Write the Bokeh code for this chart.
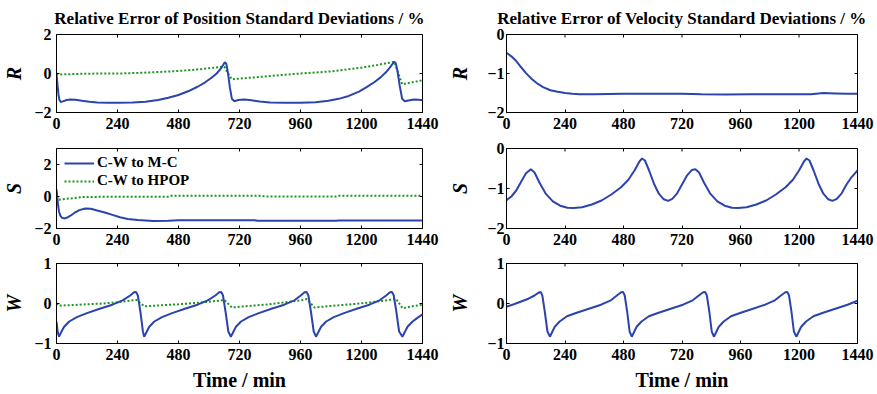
import math
from bokeh.plotting import figure
from bokeh.layouts import row, column
from bokeh.models import FixedTicker, Range1d, Legend, LegendItem, ColumnDataSource
from bokeh.embed import file_html
from bokeh.resources import INLINE

# ---------------- data ----------------
pos_r_mc_t = [0, 4, 8, 12, 17, 25, 40, 55, 75, 100, 130, 160, 200, 240, 300, 350, 400, 440,
              480, 520, 555, 585, 610, 630, 645, 655, 662, 668, 675, 682, 690, 700, 715, 737,
              760, 800, 840, 900, 960, 1020, 1070, 1110, 1150, 1190, 1220, 1250, 1275, 1295,
              1310, 1320, 1328, 1335, 1342, 1350, 1360, 1370, 1385, 1405, 1425, 1440]
pos_r_mc = [0.0, -0.6, -1.1, -1.38, -1.46, -1.43, -1.36, -1.33, -1.35, -1.4, -1.45, -1.49,
            -1.5, -1.5, -1.49, -1.45, -1.36, -1.24, -1.1, -0.9, -0.68, -0.45, -0.22, 0.0,
            0.22, 0.42, 0.58, 0.5, 0.0, -0.7, -1.3, -1.42, -1.36, -1.33, -1.36, -1.44, -1.49,
            -1.5, -1.5, -1.47, -1.4, -1.3, -1.15, -0.93, -0.7, -0.45, -0.2, 0.05, 0.28, 0.45,
            0.6, 0.52, 0.1, -0.6, -1.3, -1.42, -1.38, -1.33, -1.35, -1.37]

pos_r_hp_t = [0, 10, 20, 60, 120, 180, 240, 300, 360, 420, 480, 540, 600, 640, 660, 675, 690,
              720, 780, 840, 900, 960, 1020, 1080, 1140, 1200, 1260, 1300, 1329, 1345, 1360,
              1400, 1440]
pos_r_hp = [0.0, -0.05, -0.05, -0.03, -0.01, 0.0, 0.0, 0.02, 0.05, 0.09, 0.13, 0.19, 0.27,
            0.33, 0.35, 0.0, -0.3, -0.26, -0.2, -0.13, -0.06, 0.0, 0.05, 0.11, 0.2, 0.3, 0.43,
            0.53, 0.6, 0.0, -0.55, -0.45, -0.35]

pos_s_mc_t = [0, 3, 6, 10, 15, 22, 30, 40, 55, 70, 90, 113, 135, 160, 190, 220, 250, 280, 320,
              380, 440, 480, 600, 780, 790, 900, 1100, 1110, 1300, 1440]
pos_s_mc = [0.45, 0.0, -0.5, -0.95, -1.2, -1.33, -1.37, -1.33, -1.2, -1.03, -0.85, -0.75,
            -0.77, -0.88, -1.0, -1.15, -1.3, -1.4, -1.47, -1.53, -1.52, -1.48, -1.48, -1.48,
            -1.52, -1.52, -1.52, -1.5, -1.5, -1.5]

pos_s_hp_t = [0, 5, 10, 20, 40, 70, 100, 200, 300, 440, 450, 800, 830, 1100, 1110, 1440]
pos_s_hp = [0.0, -0.15, -0.2, -0.18, -0.14, -0.1, -0.03, -0.02, -0.02, -0.01, 0.04, 0.04,
            0.0, 0.0, 0.04, 0.04]

pos_w_mc_t = [0, 5, 10, 18, 30, 50, 80, 120, 170, 220, 260, 290, 305, 313, 320, 330, 340, 345,
              353, 365, 385, 415, 455, 505, 555, 595, 625, 640, 648, 655, 665, 676, 686, 694,
              706, 726, 756, 796, 846, 896, 936, 961, 976, 984, 991, 1001, 1012, 1021, 1029,
              1041, 1061, 1091, 1131, 1181, 1231, 1271, 1297, 1312, 1320, 1327, 1337, 1348,
              1361, 1369, 1381, 1401, 1420, 1440]
pos_w_mc = [-0.45, -0.72, -0.83, -0.72, -0.58, -0.45, -0.34, -0.24, -0.13, -0.03, 0.08, 0.2,
            0.28, 0.29, 0.2, -0.2, -0.7, -0.83, -0.73, -0.58, -0.45, -0.34, -0.24, -0.13,
            -0.03, 0.08, 0.2, 0.28, 0.29, 0.2, -0.2, -0.7, -0.83, -0.73, -0.58, -0.45, -0.34,
            -0.24, -0.13, -0.03, 0.08, 0.2, 0.28, 0.29, 0.2, -0.2, -0.7, -0.83, -0.73, -0.58,
            -0.45, -0.34, -0.24, -0.13, -0.03, 0.08, 0.2, 0.28, 0.29, 0.2, -0.2, -0.7, -0.83,
            -0.73, -0.58, -0.45, -0.36, -0.27]

pos_w_hp_t = [0, 8, 15, 60, 120, 180, 240, 300, 315, 345, 400, 480, 560, 640, 660, 690, 740,
              820, 900, 970, 985, 1015, 1080, 1160, 1240, 1320, 1335, 1362, 1400, 1440]
pos_w_hp = [0.0, -0.05, -0.05, -0.04, -0.02, 0.0, 0.03, 0.08, 0.09, -0.07, -0.05, -0.02, 0.02,
            0.07, 0.09, -0.1, -0.07, -0.03, 0.03, 0.09, 0.11, -0.1, -0.06, -0.02, 0.03, 0.1,
            0.12, -0.12, -0.07, -0.03]

vel_r_t = [0, 20, 40, 60, 80, 100, 125, 150, 180, 210, 240, 270, 300, 360, 480, 720, 800, 900,
           1000, 1250, 1300, 1350, 1400, 1440]
vel_r = [-0.47, -0.56, -0.68, -0.84, -0.99, -1.12, -1.25, -1.35, -1.43, -1.47, -1.5, -1.52,
         -1.53, -1.53, -1.52, -1.52, -1.53, -1.54, -1.53, -1.53, -1.5, -1.51, -1.52, -1.52]

vel_s_t = [0, 20, 40, 60, 80, 100, 115, 135, 160, 190, 220, 250, 275, 310, 350, 390, 430, 470,
           500, 525, 545, 556, 568, 585, 605, 625, 645, 663, 680, 700, 720, 740, 760, 775, 790,
           810, 835, 865, 895, 925, 950, 985, 1025, 1065, 1105, 1145, 1175, 1200, 1220, 1231,
           1243, 1260, 1280, 1300, 1320, 1337, 1355, 1375, 1395, 1415, 1440]
vel_s = [-1.29, -1.2, -1.05, -0.83, -0.62, -0.52, -0.6, -0.85, -1.12, -1.32, -1.43, -1.48,
         -1.49, -1.47, -1.4, -1.3, -1.15, -0.97, -0.78, -0.55, -0.33, -0.25, -0.3, -0.55,
         -0.88, -1.13, -1.27, -1.31, -1.26, -1.12, -0.9, -0.68, -0.54, -0.52, -0.6, -0.85,
         -1.12, -1.32, -1.43, -1.48, -1.49, -1.47, -1.4, -1.3, -1.15, -0.97, -0.78, -0.55,
         -0.33, -0.25, -0.3, -0.55, -0.88, -1.13, -1.27, -1.31, -1.26, -1.12, -0.9, -0.72,
         -0.55]

vel_w_t = [0, 30, 60, 90, 115, 132, 140, 147, 157, 168, 178, 186, 198, 218, 248, 288, 338,
           388, 428, 453, 470, 478, 485, 495, 505, 514, 522, 534, 554, 584, 624, 674, 724,
           764, 789, 807, 815, 822, 832, 842, 851, 859, 871, 891, 921, 961, 1011, 1061, 1101,
           1126, 1144, 1152, 1159, 1169, 1179, 1189, 1197, 1209, 1229, 1259, 1299, 1349, 1399,
           1440]
vel_w = [-0.08, -0.02, 0.05, 0.12, 0.2, 0.27, 0.29, 0.2, -0.2, -0.7, -0.83, -0.73, -0.58,
         -0.45, -0.32, -0.23, -0.13, -0.03, 0.08, 0.2, 0.28, 0.29, 0.2, -0.2, -0.7, -0.83,
         -0.73, -0.58, -0.45, -0.32, -0.23, -0.13, -0.03, 0.08, 0.2, 0.28, 0.29, 0.2, -0.2,
         -0.7, -0.83, -0.73, -0.58, -0.45, -0.32, -0.23, -0.13, -0.03, 0.08, 0.2, 0.28, 0.29,
         0.2, -0.2, -0.7, -0.83, -0.73, -0.58, -0.45, -0.32, -0.23, -0.13, -0.03, 0.07]

x_ticks = [0, 240, 480, 720, 960, 1200, 1440]
titles = ["Relative Error of Position Standard Deviations / %",
          "Relative Error of Velocity Standard Deviations / %"]
row_labels = ["R", "S", "W"]
legend_labels = ["C-W to M-C", "C-W to HPOP"]
x_label = "Time / min"

# ---------------- styling ----------------
BLUE = "#2b44ad"
GREEN = "#1c951c"
FONT = "Liberation Serif"
X_END = 1440


def make_panel(w, h, bl, br, bt, bb, yr, yt, ylab, lstand, astand, title=None, xlab=None):
    p = figure(width=w, height=h, x_range=Range1d(0, X_END), y_range=Range1d(*yr),
               output_backend="svg", toolbar_location=None,
               min_border_left=bl, min_border_right=br, min_border_top=bt,
               min_border_bottom=bb, title=title)
    p.xgrid.visible = False
    p.ygrid.visible = False
    p.outline_line_color = "black"
    p.outline_line_alpha = 1.0
    p.outline_line_width = 1
    p.background_fill_color = "white"
    p.border_fill_color = "white"
    if title:
        p.title.text_font = FONT
        p.title.text_font_size = "17px"
        p.title.text_font_style = "bold"
        p.title.text_color = "black"
        p.title.align = "center"
        p.title.standoff = 13
    for ax in (p.xaxis[0], p.yaxis[0]):
        ax.major_tick_in = 3
        ax.major_tick_out = 0
        ax.minor_tick_in = 0
        ax.minor_tick_out = 0
        ax.major_label_text_font = FONT
        ax.major_label_text_font_size = "16px"
        ax.major_label_text_font_style = "bold"
        ax.major_label_text_color = "black"
        ax.axis_line_color = "black"
        ax.major_tick_line_color = "black"
        ax.axis_label_text_color = "black"
    p.xaxis[0].ticker = FixedTicker(ticks=x_ticks)
    p.yaxis[0].ticker = FixedTicker(ticks=yt)
    p.xaxis[0].major_label_standoff = 5
    p.yaxis[0].major_label_standoff = lstand
    p.yaxis[0].axis_label = ylab
    p.yaxis[0].axis_label_text_font = FONT
    p.yaxis[0].axis_label_text_font_size = "20px"
    p.yaxis[0].axis_label_text_font_style = "bold italic"
    p.yaxis[0].axis_label_standoff = astand
    if xlab:
        p.xaxis[0].axis_label = xlab
        p.xaxis[0].axis_label_text_font = FONT
        p.xaxis[0].axis_label_text_font_size = "20px"
        p.xaxis[0].axis_label_text_font_style = "bold"
        p.xaxis[0].axis_label_standoff = 6
    # inward tick marks on the top and right edges of the box (clipped to the frame)
    p.scatter(x=x_ticks, y=[yr[1]] * len(x_ticks), marker="dash", size=6, angle=math.pi / 2,
              line_color="black", line_width=1)
    p.scatter(x=[X_END] * len(yt), y=yt, marker="dash", size=6,
              line_color="black", line_width=1)
    return p


LW, RW = 446, 431
# left column
l1 = make_panel(LW, 136, 49, 24, 33, 24, (-2, 2), [-2, 0, 2], row_labels[0], 5, 6, title=titles[0])
l2 = make_panel(LW, 116, 49, 24, 12, 24, (-2, 3), [-2, 0, 2], row_labels[1], 5, 6)
l3 = make_panel(LW, 142, 49, 24, 11, 51, (-1, 1), [-1, 0, 1], row_labels[2], 5, 6, xlab=x_label)
# right column
r1 = make_panel(RW, 136, 52, 20, 33, 24, (-2, 0), [-2, -1, 0], row_labels[0], 2, 13, title=titles[1])
r2 = make_panel(RW, 116, 52, 20, 12, 24, (-2, 0), [-2, -1, 0], row_labels[1], 2, 13)
r3 = make_panel(RW, 142, 52, 20, 11, 51, (-1, 1), [-1, 0, 1], row_labels[2], 2, 13, xlab=x_label)

l1.line(pos_r_hp_t, pos_r_hp, line_color=GREEN, line_width=2, line_dash="2 2")
l1.line(pos_r_mc_t, pos_r_mc, line_color=BLUE, line_width=2)

g2 = l2.line(pos_s_hp_t, pos_s_hp, line_color=GREEN, line_width=2, line_dash="2 2")
b2 = l2.line(pos_s_mc_t, pos_s_mc, line_color=BLUE, line_width=2)
gd = l2.scatter(x="x", y="y", source=ColumnDataSource(dict(x=[], y=[])), size=3,
                fill_color=GREEN, line_color=GREEN)

l3.line(pos_w_hp_t, pos_w_hp, line_color=GREEN, line_width=2, line_dash="2 2")
l3.line(pos_w_mc_t, pos_w_mc, line_color=BLUE, line_width=2)

r1.line(vel_r_t, vel_r, line_color=BLUE, line_width=2)
r2.line(vel_s_t, vel_s, line_color=BLUE, line_width=2)
r3.line(vel_w_t, vel_w, line_color=BLUE, line_width=2)

legend = Legend(items=[LegendItem(label=legend_labels[0], renderers=[b2]),
                       LegendItem(label=legend_labels[1], renderers=[g2, gd])],
                location=(8, 39), padding=0, margin=0, spacing=1,
                glyph_width=30, glyph_height=16, label_height=16, label_standoff=3,
                label_text_font=FONT, label_text_font_size="15px",
                label_text_font_style="bold", label_text_color="black",
                background_fill_alpha=0, border_line_alpha=0)
l2.add_layout(legend)

layout = row(column(l1, l2, l3), column(r1, r2, r3))

open("out.html", "w").write(file_html(layout, INLINE))
